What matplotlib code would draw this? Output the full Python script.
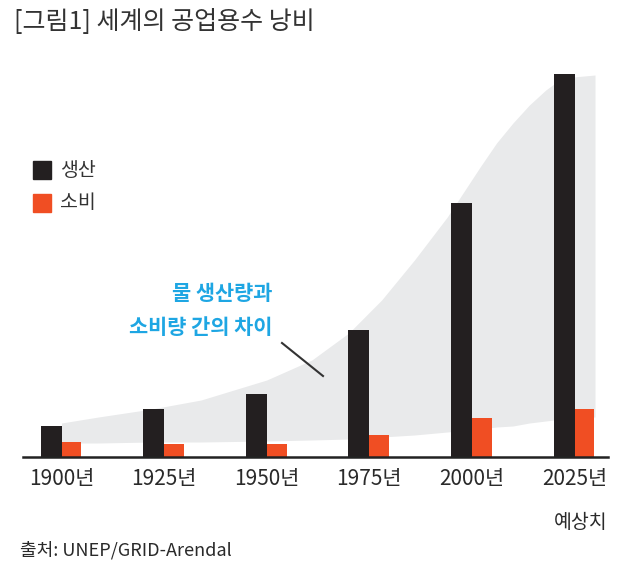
import numpy as np
import matplotlib.pyplot as plt

plt.rcParams['font.family'] = ['Noto Sans CJK KR', 'DejaVu Sans']

# 데이터 (그림에서 읽은 상대값)
years = [1900, 1925, 1950, 1975, 2000, 2025]
year_labels = ["1900년", "1925년", "1950년", "1975년", "2000년", "2025년"]
production = [31, 48, 63, 127, 254, 383]
consumption = [15, 13, 13, 22, 39, 48]

# 생산량과 소비량 차이 영역 (회색 띠)
gap_years = [1900, 1909, 1922, 1934, 1950, 1961, 1970, 1978, 1986, 1994, 2002, 2006, 2010,
             2014, 2018, 2022, 2030]
gap_upper = [34, 40, 48, 57, 77, 97, 124, 157, 197, 240, 290, 314, 334, 352, 367, 379, 382]
gap_lower = [14, 14, 15, 15, 16, 17, 18, 20, 22, 25, 28, 30, 31, 34, 36, 38, 40]

black = "#231f20"
orange = "#f04e23"
blue = "#1ea6e3"
grey = "#e9eaeb"

W, H = 640, 576
fig = plt.figure(figsize=(W / 100, H / 100), dpi=100)

# 축 위치 (픽셀 기준)
ax_left, ax_right = 23, 608
ax_bottom, ax_top = 457, 60
ax = fig.add_axes([ax_left / W, 1 - ax_bottom / H,
                   (ax_right - ax_left) / W, (ax_bottom - ax_top) / H])

px_per_year = 102.6 / 25
xmin = 1900 - (61.5 - ax_left) / px_per_year
xmax = xmin + (ax_right - ax_left) / px_per_year
ax.set_xlim(xmin, xmax)
ax.set_ylim(0, ax_bottom - ax_top)

ax.fill_between(gap_years, gap_lower, gap_upper, color=grey, lw=0, zorder=1)

bw = 5.1
ax.bar(np.array(years) - bw / 2, production, width=bw, color=black, zorder=3)
ax.bar(np.array(years) + bw * 0.95 / 2, consumption, width=bw * 0.95, color=orange, zorder=3)

for s in ["top", "right", "left"]:
    ax.spines[s].set_visible(False)
ax.spines["bottom"].set_linewidth(1.8)
ax.spines["bottom"].set_color("#222222")
ax.spines["bottom"].set_zorder(4)
ax.set_yticks([])
ax.set_xticks(years)
ax.set_xticklabels(year_labels, fontsize=15, color="#2a2a2a")
ax.tick_params(axis="x", length=0, pad=8)


def fx(px):
    return px / W


def fy(py):
    return 1 - py / H


# 제목
fig.text(fx(14), fy(22), "[그림1] 세계의 공업용수 낭비", fontsize=18, fontweight="medium",
         color="#333333", va="center", ha="left")

# 범례
for py, c, lab in [(170, black, "생산"), (203, orange, "소비")]:
    fig.patches.append(plt.Rectangle((fx(33), fy(py + 9)), 18 / W, 18 / H,
                                     transform=fig.transFigure, color=c))
    fig.text(fx(60), fy(py), lab, fontsize=14, fontweight="medium", color="#333333",
             va="center", ha="left")

# 주석
fig.text(fx(272), fy(293), "물 생산량과", fontsize=15, color=blue,
         fontweight="bold", ha="right", va="center")
fig.text(fx(272), fy(327), "소비량 간의 차이", fontsize=15, color=blue,
         fontweight="bold", ha="right", va="center")
fig.add_artist(plt.Line2D([fx(282), fx(323)], [fy(343), fy(376)],
                          transform=fig.transFigure, color="#333333", lw=1.5))

fig.text(fx(607), fy(522), "예상치", fontsize=14, color="#2a2a2a", ha="right", va="center")
fig.text(fx(20), fy(550), "출처: UNEP/GRID-Arendal", fontsize=13, color="#2a2a2a",
         ha="left", va="center")

fig.savefig("out.png", dpi=100)
